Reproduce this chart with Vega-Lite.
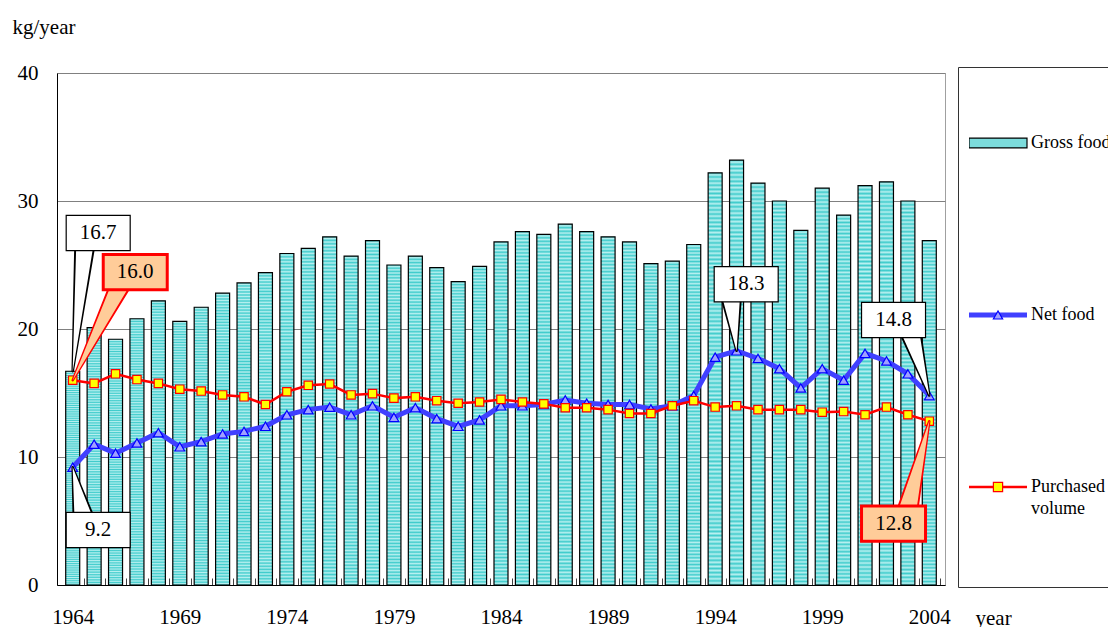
{
"$schema": "https://vega.github.io/schema/vega-lite/v6.json",
"width": 888, "height": 512,
"autosize": {"type": "none"},
"padding": {"left": 57, "top": 73, "right": 163, "bottom": 42},
"background": "white",
"config": {"font": "Liberation Serif", "view": {"stroke": "#a0a0a0", "strokeWidth": 1}},
"datasets": {
"food": [
{"year":1964,"Gross food":16.7,"Net food":9.2,"Purchased volume":16.0},
{"year":1965,"Gross food":20.1,"Net food":11.0,"Purchased volume":15.75},
{"year":1966,"Gross food":19.2,"Net food":10.3,"Purchased volume":16.5},
{"year":1967,"Gross food":20.8,"Net food":11.1,"Purchased volume":16.05},
{"year":1968,"Gross food":22.2,"Net food":11.9,"Purchased volume":15.75},
{"year":1969,"Gross food":20.6,"Net food":10.8,"Purchased volume":15.3},
{"year":1970,"Gross food":21.7,"Net food":11.2,"Purchased volume":15.15},
{"year":1971,"Gross food":22.8,"Net food":11.8,"Purchased volume":14.85},
{"year":1972,"Gross food":23.6,"Net food":12.0,"Purchased volume":14.7},
{"year":1973,"Gross food":24.4,"Net food":12.4,"Purchased volume":14.1},
{"year":1974,"Gross food":25.9,"Net food":13.3,"Purchased volume":15.1},
{"year":1975,"Gross food":26.3,"Net food":13.7,"Purchased volume":15.6},
{"year":1976,"Gross food":27.2,"Net food":13.9,"Purchased volume":15.7},
{"year":1977,"Gross food":25.7,"Net food":13.3,"Purchased volume":14.85},
{"year":1978,"Gross food":26.9,"Net food":14.0,"Purchased volume":14.95},
{"year":1979,"Gross food":25.0,"Net food":13.1,"Purchased volume":14.6},
{"year":1980,"Gross food":25.7,"Net food":13.85,"Purchased volume":14.7},
{"year":1981,"Gross food":24.8,"Net food":13.0,"Purchased volume":14.4},
{"year":1982,"Gross food":23.7,"Net food":12.4,"Purchased volume":14.2},
{"year":1983,"Gross food":24.9,"Net food":12.9,"Purchased volume":14.3},
{"year":1984,"Gross food":26.8,"Net food":14.0,"Purchased volume":14.5},
{"year":1985,"Gross food":27.6,"Net food":14.0,"Purchased volume":14.3},
{"year":1986,"Gross food":27.4,"Net food":14.1,"Purchased volume":14.15},
{"year":1987,"Gross food":28.2,"Net food":14.45,"Purchased volume":13.85},
{"year":1988,"Gross food":27.6,"Net food":14.2,"Purchased volume":13.85},
{"year":1989,"Gross food":27.2,"Net food":14.1,"Purchased volume":13.7},
{"year":1990,"Gross food":26.8,"Net food":14.1,"Purchased volume":13.4},
{"year":1991,"Gross food":25.1,"Net food":13.75,"Purchased volume":13.4},
{"year":1992,"Gross food":25.3,"Net food":14.0,"Purchased volume":14.0},
{"year":1993,"Gross food":26.6,"Net food":14.8,"Purchased volume":14.4},
{"year":1994,"Gross food":32.2,"Net food":17.8,"Purchased volume":13.9},
{"year":1995,"Gross food":33.2,"Net food":18.3,"Purchased volume":14.0},
{"year":1996,"Gross food":31.4,"Net food":17.7,"Purchased volume":13.7},
{"year":1997,"Gross food":30.0,"Net food":16.9,"Purchased volume":13.7},
{"year":1998,"Gross food":27.7,"Net food":15.4,"Purchased volume":13.7},
{"year":1999,"Gross food":31.0,"Net food":16.9,"Purchased volume":13.5},
{"year":2000,"Gross food":28.9,"Net food":16.0,"Purchased volume":13.55},
{"year":2001,"Gross food":31.2,"Net food":18.1,"Purchased volume":13.3},
{"year":2002,"Gross food":31.5,"Net food":17.5,"Purchased volume":13.9},
{"year":2003,"Gross food":30.0,"Net food":16.5,"Purchased volume":13.3},
{"year":2004,"Gross food":26.9,"Net food":14.8,"Purchased volume":12.8}
],
"callouts": [
{"label":"16.7","year":1965.19,"value":27.5,"kind":"white"},
{"label":"16.0","year":1966.92,"value":24.45,"kind":"orange"},
{"label":"9.2","year":1965.19,"value":4.3,"kind":"white"},
{"label":"18.3","year":1995.45,"value":23.5,"kind":"white"},
{"label":"14.8","year":2002.33,"value":20.7,"kind":"white"},
{"label":"12.8","year":2002.33,"value":4.8,"kind":"orange"}
],
"pointers": [
{"id":"a","end":0,"year":1964,"value":16.7,"kind":"white"},
{"id":"a","end":1,"year":1964.56,"value":26.48,"kind":"white"},
{"id":"b","end":0,"year":1964,"value":16.0,"kind":"orange"},
{"id":"b","end":1,"year":1966.22,"value":23.44,"kind":"orange"},
{"id":"c","end":0,"year":1964,"value":9.2,"kind":"white"},
{"id":"c","end":1,"year":1964.47,"value":5.47,"kind":"white"},
{"id":"d","end":0,"year":1995,"value":18.3,"kind":"white"},
{"id":"d","end":1,"year":1994.76,"value":22.34,"kind":"white"},
{"id":"e","end":0,"year":2004,"value":14.8,"kind":"white"},
{"id":"e","end":1,"year":2003.16,"value":19.53,"kind":"white"},
{"id":"f","end":0,"year":2004,"value":12.8,"kind":"orange"},
{"id":"f","end":1,"year":2003.02,"value":6.09,"kind":"orange"}
]
},
"resolve": {"scale": {"size": "independent"}, "axis": {"x": "independent"}},
"layer": [
{
"data": {"name": "food"},
"mark": {"type": "bar", "orient": "vertical", "size": 14, "stroke": "#000000", "strokeWidth": 1.2,
"color": {"gradient": "linear", "x1": 0, "y1": 0, "x2": 0, "y2": 1, "stops": [
{"offset":0,"color":"#40cccc"},{"offset":0.005,"color":"#b8f0f0"},{"offset":0.01,"color":"#40cccc"},{"offset":0.015,"color":"#b8f0f0"},{"offset":0.02,"color":"#40cccc"},{"offset":0.025,"color":"#b8f0f0"},{"offset":0.03,"color":"#40cccc"},{"offset":0.035,"color":"#b8f0f0"},{"offset":0.04,"color":"#40cccc"},{"offset":0.045,"color":"#b8f0f0"},
{"offset":0.05,"color":"#40cccc"},{"offset":0.055,"color":"#b8f0f0"},{"offset":0.06,"color":"#40cccc"},{"offset":0.065,"color":"#b8f0f0"},{"offset":0.07,"color":"#40cccc"},{"offset":0.075,"color":"#b8f0f0"},{"offset":0.08,"color":"#40cccc"},{"offset":0.085,"color":"#b8f0f0"},{"offset":0.09,"color":"#40cccc"},{"offset":0.095,"color":"#b8f0f0"},
{"offset":0.1,"color":"#40cccc"},{"offset":0.105,"color":"#b8f0f0"},{"offset":0.11,"color":"#40cccc"},{"offset":0.115,"color":"#b8f0f0"},{"offset":0.12,"color":"#40cccc"},{"offset":0.125,"color":"#b8f0f0"},{"offset":0.13,"color":"#40cccc"},{"offset":0.135,"color":"#b8f0f0"},{"offset":0.14,"color":"#40cccc"},{"offset":0.145,"color":"#b8f0f0"},
{"offset":0.15,"color":"#40cccc"},{"offset":0.155,"color":"#b8f0f0"},{"offset":0.16,"color":"#40cccc"},{"offset":0.165,"color":"#b8f0f0"},{"offset":0.17,"color":"#40cccc"},{"offset":0.175,"color":"#b8f0f0"},{"offset":0.18,"color":"#40cccc"},{"offset":0.185,"color":"#b8f0f0"},{"offset":0.19,"color":"#40cccc"},{"offset":0.195,"color":"#b8f0f0"},
{"offset":0.2,"color":"#40cccc"},{"offset":0.205,"color":"#b8f0f0"},{"offset":0.21,"color":"#40cccc"},{"offset":0.215,"color":"#b8f0f0"},{"offset":0.22,"color":"#40cccc"},{"offset":0.225,"color":"#b8f0f0"},{"offset":0.23,"color":"#40cccc"},{"offset":0.235,"color":"#b8f0f0"},{"offset":0.24,"color":"#40cccc"},{"offset":0.245,"color":"#b8f0f0"},
{"offset":0.25,"color":"#40cccc"},{"offset":0.255,"color":"#b8f0f0"},{"offset":0.26,"color":"#40cccc"},{"offset":0.265,"color":"#b8f0f0"},{"offset":0.27,"color":"#40cccc"},{"offset":0.275,"color":"#b8f0f0"},{"offset":0.28,"color":"#40cccc"},{"offset":0.285,"color":"#b8f0f0"},{"offset":0.29,"color":"#40cccc"},{"offset":0.295,"color":"#b8f0f0"},
{"offset":0.3,"color":"#40cccc"},{"offset":0.305,"color":"#b8f0f0"},{"offset":0.31,"color":"#40cccc"},{"offset":0.315,"color":"#b8f0f0"},{"offset":0.32,"color":"#40cccc"},{"offset":0.325,"color":"#b8f0f0"},{"offset":0.33,"color":"#40cccc"},{"offset":0.335,"color":"#b8f0f0"},{"offset":0.34,"color":"#40cccc"},{"offset":0.345,"color":"#b8f0f0"},
{"offset":0.35,"color":"#40cccc"},{"offset":0.355,"color":"#b8f0f0"},{"offset":0.36,"color":"#40cccc"},{"offset":0.365,"color":"#b8f0f0"},{"offset":0.37,"color":"#40cccc"},{"offset":0.375,"color":"#b8f0f0"},{"offset":0.38,"color":"#40cccc"},{"offset":0.385,"color":"#b8f0f0"},{"offset":0.39,"color":"#40cccc"},{"offset":0.395,"color":"#b8f0f0"},
{"offset":0.4,"color":"#40cccc"},{"offset":0.405,"color":"#b8f0f0"},{"offset":0.41,"color":"#40cccc"},{"offset":0.415,"color":"#b8f0f0"},{"offset":0.42,"color":"#40cccc"},{"offset":0.425,"color":"#b8f0f0"},{"offset":0.43,"color":"#40cccc"},{"offset":0.435,"color":"#b8f0f0"},{"offset":0.44,"color":"#40cccc"},{"offset":0.445,"color":"#b8f0f0"},
{"offset":0.45,"color":"#40cccc"},{"offset":0.455,"color":"#b8f0f0"},{"offset":0.46,"color":"#40cccc"},{"offset":0.465,"color":"#b8f0f0"},{"offset":0.47,"color":"#40cccc"},{"offset":0.475,"color":"#b8f0f0"},{"offset":0.48,"color":"#40cccc"},{"offset":0.485,"color":"#b8f0f0"},{"offset":0.49,"color":"#40cccc"},{"offset":0.495,"color":"#b8f0f0"},
{"offset":0.5,"color":"#40cccc"},{"offset":0.505,"color":"#b8f0f0"},{"offset":0.51,"color":"#40cccc"},{"offset":0.515,"color":"#b8f0f0"},{"offset":0.52,"color":"#40cccc"},{"offset":0.525,"color":"#b8f0f0"},{"offset":0.53,"color":"#40cccc"},{"offset":0.535,"color":"#b8f0f0"},{"offset":0.54,"color":"#40cccc"},{"offset":0.545,"color":"#b8f0f0"},
{"offset":0.55,"color":"#40cccc"},{"offset":0.555,"color":"#b8f0f0"},{"offset":0.56,"color":"#40cccc"},{"offset":0.565,"color":"#b8f0f0"},{"offset":0.57,"color":"#40cccc"},{"offset":0.575,"color":"#b8f0f0"},{"offset":0.58,"color":"#40cccc"},{"offset":0.585,"color":"#b8f0f0"},{"offset":0.59,"color":"#40cccc"},{"offset":0.595,"color":"#b8f0f0"},
{"offset":0.6,"color":"#40cccc"},{"offset":0.605,"color":"#b8f0f0"},{"offset":0.61,"color":"#40cccc"},{"offset":0.615,"color":"#b8f0f0"},{"offset":0.62,"color":"#40cccc"},{"offset":0.625,"color":"#b8f0f0"},{"offset":0.63,"color":"#40cccc"},{"offset":0.635,"color":"#b8f0f0"},{"offset":0.64,"color":"#40cccc"},{"offset":0.645,"color":"#b8f0f0"},
{"offset":0.65,"color":"#40cccc"},{"offset":0.655,"color":"#b8f0f0"},{"offset":0.66,"color":"#40cccc"},{"offset":0.665,"color":"#b8f0f0"},{"offset":0.67,"color":"#40cccc"},{"offset":0.675,"color":"#b8f0f0"},{"offset":0.68,"color":"#40cccc"},{"offset":0.685,"color":"#b8f0f0"},{"offset":0.69,"color":"#40cccc"},{"offset":0.695,"color":"#b8f0f0"},
{"offset":0.7,"color":"#40cccc"},{"offset":0.705,"color":"#b8f0f0"},{"offset":0.71,"color":"#40cccc"},{"offset":0.715,"color":"#b8f0f0"},{"offset":0.72,"color":"#40cccc"},{"offset":0.725,"color":"#b8f0f0"},{"offset":0.73,"color":"#40cccc"},{"offset":0.735,"color":"#b8f0f0"},{"offset":0.74,"color":"#40cccc"},{"offset":0.745,"color":"#b8f0f0"},
{"offset":0.75,"color":"#40cccc"},{"offset":0.755,"color":"#b8f0f0"},{"offset":0.76,"color":"#40cccc"},{"offset":0.765,"color":"#b8f0f0"},{"offset":0.77,"color":"#40cccc"},{"offset":0.775,"color":"#b8f0f0"},{"offset":0.78,"color":"#40cccc"},{"offset":0.785,"color":"#b8f0f0"},{"offset":0.79,"color":"#40cccc"},{"offset":0.795,"color":"#b8f0f0"},
{"offset":0.8,"color":"#40cccc"},{"offset":0.805,"color":"#b8f0f0"},{"offset":0.81,"color":"#40cccc"},{"offset":0.815,"color":"#b8f0f0"},{"offset":0.82,"color":"#40cccc"},{"offset":0.825,"color":"#b8f0f0"},{"offset":0.83,"color":"#40cccc"},{"offset":0.835,"color":"#b8f0f0"},{"offset":0.84,"color":"#40cccc"},{"offset":0.845,"color":"#b8f0f0"},
{"offset":0.85,"color":"#40cccc"},{"offset":0.855,"color":"#b8f0f0"},{"offset":0.86,"color":"#40cccc"},{"offset":0.865,"color":"#b8f0f0"},{"offset":0.87,"color":"#40cccc"},{"offset":0.875,"color":"#b8f0f0"},{"offset":0.88,"color":"#40cccc"},{"offset":0.885,"color":"#b8f0f0"},{"offset":0.89,"color":"#40cccc"},{"offset":0.895,"color":"#b8f0f0"},
{"offset":0.9,"color":"#40cccc"},{"offset":0.905,"color":"#b8f0f0"},{"offset":0.91,"color":"#40cccc"},{"offset":0.915,"color":"#b8f0f0"},{"offset":0.92,"color":"#40cccc"},{"offset":0.925,"color":"#b8f0f0"},{"offset":0.93,"color":"#40cccc"},{"offset":0.935,"color":"#b8f0f0"},{"offset":0.94,"color":"#40cccc"},{"offset":0.945,"color":"#b8f0f0"},
{"offset":0.95,"color":"#40cccc"},{"offset":0.955,"color":"#b8f0f0"},{"offset":0.96,"color":"#40cccc"},{"offset":0.965,"color":"#b8f0f0"},{"offset":0.97,"color":"#40cccc"},{"offset":0.975,"color":"#b8f0f0"},{"offset":0.98,"color":"#40cccc"},{"offset":0.985,"color":"#b8f0f0"},{"offset":0.99,"color":"#40cccc"},{"offset":0.995,"color":"#b8f0f0"},
{"offset":1,"color":"#40cccc"}
]}},
"encoding": {
"x": {"field": "year", "type": "quantitative", "scale": {"domain": [1963.5, 2004.5], "nice": false, "zero": false},
"axis": {"orient": "bottom", "title": null, "labels": false,
"values": [1964,1965,1966,1967,1968,1969,1970,1971,1972,1973,1974,1975,1976,1977,1978,1979,1980,1981,1982,1983,1984,1985,1986,1987,1988,1989,1990,1991,1992,1993,1994,1995,1996,1997,1998,1999,2000,2001,2002,2003,2004],
"tickOffset": 10.83, "tickSize": -7, "tickColor": "#404040", "tickWidth": 1,
"grid": false, "domainColor": "#000000", "domainWidth": 1}},
"y": {"field": "Gross food", "type": "quantitative", "scale": {"domain": [0, 40], "nice": false},
"axis": {"title": "kg/year", "titleAngle": 0, "titleX": -45, "titleY": -46, "titleAlign": "left", "titleBaseline": "middle", "titleFont": "Liberation Serif", "titleFontSize": 21, "titleFontWeight": "normal", "titleColor": "#000000",
"values": [0, 10, 20, 30, 40], "grid": true, "gridColor": "#808080", "gridWidth": 1, "ticks": false, "labelPadding": 19,
"labelFont": "Liberation Serif", "labelFontSize": 21, "labelColor": "#000000", "domainColor": "#000000", "domainWidth": 1}}
}
},
{
"data": {"name": "food"},
"transform": [{"fold": ["Net food", "Purchased volume"], "as": ["series", "value"]}, {"filter": "datum.series === 'Net food'"}],
"mark": {"type": "line", "strokeWidth": 5},
"encoding": {
"x": {"field": "year", "type": "quantitative",
"axis": {"orient": "bottom", "title": "year", "titleX": 918, "titleY": 33, "titleAlign": "left", "titleBaseline": "middle", "titleFont": "Liberation Serif", "titleFontSize": 21, "titleFontWeight": "normal", "titleColor": "#000000",
"values": [1964, 1969, 1974, 1979, 1984, 1989, 1994, 1999, 2004], "format": "d",
"ticks": false, "domain": false, "grid": false, "labelPadding": 21, "labelFont": "Liberation Serif", "labelFontSize": 21, "labelColor": "#000000",
"labelFlush": false, "labelOverlap": false, "labelBound": false}},
"y": {"field": "value", "type": "quantitative"},
"color": {"field": "series", "type": "nominal",
"scale": {"domain": ["Gross food", "Net food", "Purchased volume"], "range": ["#000000", "#4040ff", "#ff0000"]},
"legend": {"orient": "none", "legendX": 901, "legendY": -6, "title": "x", "titleOrient": "bottom", "titleOpacity": 0, "titleFontSize": 10, "titlePadding": 14,
"padding": 11, "strokeColor": "#333333", "fillColor": "#ffffff", "clipHeight": 130, "rowPadding": 42,
"symbolSize": 3364, "symbolType": "stroke", "symbolOffset": 20, "labelFont": "Liberation Serif", "labelFontSize": 18, "labelColor": "#000000", "labelOffset": 24, "labelLimit": 300,
"labelExpr": "datum.label === 'Purchased volume' ? ['Purchased', 'volume'] : datum.label",
"encode": {
"symbols": {"update": {
"shape": {"signal": "datum.value === 'Gross food' ? 'M-1,-0.17H1V0.17H-1Z' : 'M-1,0H1'"},
"size": {"value": 3364},
"fill": {"signal": "datum.value === 'Gross food' ? '#7cdcdc' : 'transparent'"},
"stroke": {"signal": "datum.value === 'Gross food' ? '#000000' : (datum.value === 'Net food' ? '#4040ff' : '#ff0000')"},
"strokeWidth": {"signal": "datum.value === 'Gross food' ? 1.2 : (datum.value === 'Net food' ? 5 : 2.5)"},
"opacity": {"value": 1}}},
"labels": {"update": {"lineHeight": {"value": 22}}}
}}}
}
},
{
"data": {"name": "food"},
"transform": [{"fold": ["Net food", "Purchased volume"], "as": ["series", "value"]}, {"filter": "datum.series === 'Net food'"}],
"mark": {"type": "point", "filled": true, "strokeWidth": 1.2, "size": 95, "opacity": 1},
"encoding": {
"x": {"field": "year", "type": "quantitative", "axis": null},
"y": {"field": "value", "type": "quantitative"},
"fill": {"field": "series", "type": "nominal", "scale": {"domain": ["Net food", "Purchased volume"], "range": ["#a0a0ff", "#ffff00"]}},
"stroke": {"field": "series", "type": "nominal", "scale": {"domain": ["Net food", "Purchased volume"], "range": ["#0000ff", "#ff0000"]}},
"shape": {"field": "series", "type": "nominal",
"scale": {"domain": ["Net food", "Purchased volume"], "range": ["triangle-up", "square"]},
"legend": {"orient": "none", "legendX": 921, "legendY": 166, "title": null, "padding": 11, "clipHeight": 130, "rowPadding": 42,
"symbolSize": 85, "symbolStrokeWidth": 1.2, "symbolOpacity": 1, "labelOpacity": 0, "labelExpr": "''", "labelFontSize": 18, "labelFont": "Liberation Serif"}}
}
},
{
"data": {"name": "food"},
"transform": [{"fold": ["Net food", "Purchased volume"], "as": ["series", "value"]}, {"filter": "datum.series === 'Purchased volume'"}],
"mark": {"type": "line", "strokeWidth": 2.5},
"encoding": {
"x": {"field": "year", "type": "quantitative", "axis": null},
"y": {"field": "value", "type": "quantitative"},
"color": {"field": "series", "type": "nominal"}
}
},
{
"data": {"name": "food"},
"transform": [{"fold": ["Net food", "Purchased volume"], "as": ["series", "value"]}, {"filter": "datum.series === 'Purchased volume'"}],
"mark": {"type": "point", "filled": true, "strokeWidth": 1.2, "size": 70, "opacity": 1},
"encoding": {
"x": {"field": "year", "type": "quantitative", "axis": null},
"y": {"field": "value", "type": "quantitative"},
"fill": {"field": "series", "type": "nominal"},
"stroke": {"field": "series", "type": "nominal"},
"shape": {"field": "series", "type": "nominal"}
}
},
{
"data": {"name": "pointers"},
"mark": {"type": "trail"},
"encoding": {
"x": {"field": "year", "type": "quantitative", "axis": null},
"y": {"field": "value", "type": "quantitative"},
"detail": {"field": "id", "type": "nominal"},
"size": {"field": "end", "type": "quantitative", "scale": {"domain": [0, 1], "range": [2.5, 21]}, "legend": null},
"color": {"condition": {"test": "datum.kind === 'orange'", "value": "#ff0000"}, "value": "#000000"}
}
},
{
"data": {"name": "pointers"},
"mark": {"type": "trail"},
"encoding": {
"x": {"field": "year", "type": "quantitative", "axis": null},
"y": {"field": "value", "type": "quantitative"},
"detail": {"field": "id", "type": "nominal"},
"size": {"field": "end", "type": "quantitative", "scale": {"domain": [0, 1], "range": [0.1, 17]}, "legend": null},
"color": {"condition": {"test": "datum.kind === 'orange'", "value": "#ffcc99"}, "value": "#ffffff"}
}
},
{
"data": {"name": "callouts"},
"mark": {"type": "point", "filled": true, "shape": "M-1,-0.55H1V0.55H-1Z", "size": 4096, "opacity": 1},
"encoding": {
"x": {"field": "year", "type": "quantitative", "axis": null},
"y": {"field": "value", "type": "quantitative"},
"fill": {"condition": {"test": "datum.kind === 'orange'", "value": "#ffcc99"}, "value": "#ffffff"},
"stroke": {"condition": {"test": "datum.kind === 'orange'", "value": "#ff0000"}, "value": "#000000"},
"strokeWidth": {"condition": {"test": "datum.kind === 'orange'", "value": 3}, "value": 1.2}
}
},
{
"data": {"name": "callouts"},
"mark": {"type": "text", "font": "Liberation Serif", "fontSize": 21, "align": "center", "baseline": "middle", "color": "#000000"},
"encoding": {
"x": {"field": "year", "type": "quantitative", "axis": null},
"y": {"field": "value", "type": "quantitative"},
"text": {"field": "label", "type": "nominal"}
}
}
]
}
